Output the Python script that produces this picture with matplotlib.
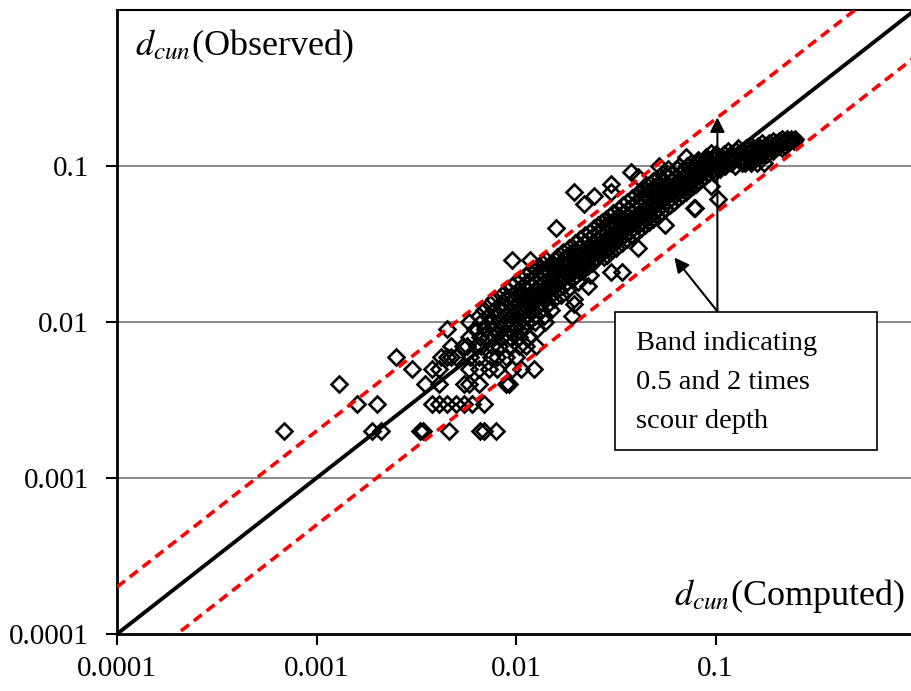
import matplotlib
matplotlib.use("Agg")
import matplotlib.pyplot as plt
from matplotlib.ticker import FixedLocator, FixedFormatter, NullLocator

plt.rcParams['font.family'] = ['Liberation Serif', 'DejaVu Serif']
plt.rcParams['mathtext.fontset'] = 'stix'

# observed scour depth rows (values are read to 0.001) and the computed depths on each row
obs_rows = [0.002, 0.003, 0.004, 0.005, 0.006, 0.007, 0.008, 0.009, 0.010,
            0.011, 0.012, 0.013, 0.014, 0.015, 0.016, 0.017, 0.018, 0.019,
            0.020, 0.021, 0.022, 0.023, 0.024, 0.025, 0.026, 0.027, 0.028,
            0.030, 0.032, 0.034, 0.036, 0.038, 0.040, 0.042, 0.044, 0.046,
            0.048, 0.050, 0.053, 0.054, 0.056, 0.057, 0.059, 0.061, 0.062,
            0.064, 0.065, 0.068, 0.071, 0.074, 0.077, 0.080, 0.085, 0.090,
            0.091, 0.095, 0.100, 0.104, 0.105, 0.110, 0.114, 0.115, 0.120,
            0.122, 0.125, 0.130, 0.135, 0.140, 0.145, 0.150]

comp_rows = [
    [0.00069, 0.0019, 0.0021, 0.0033, 0.0034, 0.0046, 0.0066, 0.0069, 0.0079],
    [0.0016, 0.002, 0.0038, 0.0041, 0.0045, 0.005, 0.0055, 0.006, 0.0069],
    [0.0013, 0.0035, 0.0041, 0.0055, 0.0058, 0.0065, 0.0089, 0.0092],
    [0.003, 0.0038, 0.0041, 0.0058, 0.0065, 0.0073, 0.008, 0.0095, 0.0106, 0.0123],
    [0.0025, 0.0042, 0.0045, 0.0047, 0.005, 0.0059, 0.0065, 0.0075, 0.008, 0.0089, 0.01],
    [0.0047, 0.0054, 0.0057, 0.0064, 0.0067, 0.0076, 0.0082, 0.0092, 0.0103, 0.0112, 0.0126],
    [0.0058, 0.0066, 0.0072, 0.0078, 0.0085, 0.0093, 0.0103, 0.0115],
    [0.0045, 0.0062, 0.0070, 0.0077, 0.0084, 0.0091, 0.0099, 0.0108, 0.0128],
    [0.0058, 0.0067, 0.0075, 0.0082, 0.0089, 0.0096, 0.0104, 0.0113, 0.0125, 0.014],
    [0.0065, 0.0072, 0.0080, 0.0088, 0.0096, 0.0104, 0.0113, 0.0124, 0.0138, 0.019],
    [0.0069, 0.0078, 0.0086, 0.0094, 0.0102, 0.0111, 0.0121, 0.0133, 0.0150],
    [0.0074, 0.0084, 0.0093, 0.0101, 0.0110, 0.0119, 0.0130, 0.0145, 0.0195],
    [0.0078, 0.0088, 0.0098, 0.0107, 0.0116, 0.0126, 0.0138, 0.0155, 0.0195],
    [0.0085, 0.0096, 0.0106, 0.0116, 0.0126, 0.0136, 0.0149, 0.0168],
    [0.0090, 0.0102, 0.0113, 0.0124, 0.0135, 0.0147, 0.0160, 0.0180],
    [0.0096, 0.0108, 0.0120, 0.0131, 0.0143, 0.0156, 0.0172, 0.023],
    [0.0100, 0.0113, 0.0126, 0.0138, 0.0150, 0.0163, 0.0180, 0.0205],
    [0.0107, 0.0120, 0.0133, 0.0146, 0.0159, 0.0173, 0.0190],
    [0.0112, 0.0126, 0.0140, 0.0153, 0.0167, 0.0182, 0.0200, 0.0235],
    [0.0118, 0.0133, 0.0147, 0.0161, 0.0176, 0.0192, 0.0210, 0.030, 0.034],
    [0.0124, 0.0139, 0.0154, 0.0169, 0.0184, 0.0200, 0.0220],
    [0.0130, 0.0146, 0.0162, 0.0177, 0.0193, 0.0210, 0.0230],
    [0.0135, 0.0152, 0.0168, 0.0184, 0.0200, 0.0218, 0.0240],
    [0.0095, 0.0117, 0.0141, 0.0158, 0.0175, 0.0192, 0.0209, 0.0227, 0.0250],
    [0.0160, 0.0178, 0.0196, 0.0214, 0.0232, 0.0252, 0.0275],
    [0.0166, 0.0185, 0.0204, 0.0222, 0.0241, 0.0262, 0.0286],
    [0.0172, 0.0192, 0.0211, 0.0230, 0.0250, 0.0272, 0.0296],
    [0.0185, 0.0206, 0.0226, 0.0247, 0.0268, 0.0291, 0.0318, 0.041],
    [0.0197, 0.0219, 0.0241, 0.0263, 0.0286, 0.0310, 0.0339],
    [0.0209, 0.0233, 0.0256, 0.0280, 0.0304, 0.0330, 0.0360],
    [0.0222, 0.0247, 0.0272, 0.0296, 0.0322, 0.0349, 0.0381],
    [0.0234, 0.0260, 0.0287, 0.0313, 0.0340, 0.0368, 0.0402],
    [0.0158, 0.0246, 0.0274, 0.0302, 0.0329, 0.0357, 0.0387, 0.0423],
    [0.0259, 0.0288, 0.0317, 0.0346, 0.0375, 0.0407, 0.0444, 0.056],
    [0.0271, 0.0302, 0.0332, 0.0362, 0.0393, 0.0426, 0.0465],
    [0.0283, 0.0315, 0.0347, 0.0379, 0.0411, 0.0445, 0.0486],
    [0.0296, 0.0329, 0.0362, 0.0395, 0.0429, 0.0465, 0.0508],
    [0.0308, 0.0343, 0.0377, 0.0412, 0.0447, 0.0484, 0.0529],
    [0.0327, 0.0363, 0.0400, 0.0436, 0.0474, 0.0513, 0.0560],
    [0.078, 0.079],
    [0.0345, 0.0384, 0.0422, 0.0461, 0.0500, 0.0542, 0.0592],
    [0.022],
    [0.0362, 0.0403, 0.0443, 0.0484, 0.0525, 0.0569, 0.0621],
    [0.103],
    [0.0380, 0.0422, 0.0464, 0.0506, 0.0549, 0.0595, 0.0650],
    [0.0245],
    [0.0398, 0.0442, 0.0486, 0.0530, 0.0575, 0.0623, 0.0680],
    [0.0195, 0.030, 0.0416, 0.0462, 0.0508, 0.0554, 0.0601, 0.0651, 0.0710],
    [0.0434, 0.0482, 0.0530, 0.0578, 0.0627, 0.0679, 0.0740],
    [0.0452, 0.0502, 0.0552, 0.0602, 0.0653, 0.0707, 0.0770, 0.095],
    [0.030, 0.0470, 0.0522, 0.0574, 0.0626, 0.0679, 0.0735, 0.0800],
    [0.0488, 0.0542, 0.0596, 0.0650, 0.0705, 0.0763, 0.0830],
    [0.041, 0.0518, 0.0575, 0.0632, 0.0689, 0.0747, 0.0808, 0.0880],
    [0.0548, 0.0608, 0.0668, 0.0728, 0.0789, 0.0853, 0.0930, 0.098],
    [0.0376],
    [0.0580, 0.0643, 0.0706, 0.0769, 0.0833, 0.0900, 0.0980, 0.105],
    [0.052, 0.0660, 0.0720, 0.0780, 0.0840, 0.0900, 0.0960, 0.103, 0.112, 0.125],
    [0.140, 0.150, 0.162, 0.175],
    [0.0750, 0.0820, 0.0890, 0.0960, 0.103, 0.110, 0.120, 0.135],
    [0.0820, 0.0900, 0.0980, 0.106, 0.114, 0.123, 0.135, 0.150],
    [0.071],
    [0.0900, 0.0990, 0.108, 0.117, 0.126, 0.137, 0.150, 0.165],
    [0.100, 0.110, 0.120, 0.130, 0.141, 0.153, 0.167, 0.182],
    [0.095],
    [0.115, 0.126, 0.138, 0.150, 0.163, 0.178, 0.195],
    [0.130, 0.142, 0.155, 0.168, 0.183, 0.199, 0.215],
    [0.150, 0.163, 0.177, 0.192, 0.208, 0.224],
    [0.172, 0.186, 0.201, 0.216, 0.232],
    [0.195, 0.208, 0.222, 0.236, 0.248],
    [0.215, 0.228, 0.240, 0.250],
]

computed = []
observed = []
for y, xs in zip(obs_rows, comp_rows):
    for x in xs:
        computed.append(x)
        observed.append(y)

# perfect agreement and the 0.5 / 2 times bands
line_x = [0.0001, 1.0]
line_y = [0.0001, 1.0]
upper_y = [0.0002, 2.0]
lower_y = [0.00005, 0.5]

ticks = [0.0001, 0.001, 0.01, 0.1]
tick_labels = ['0.0001', '0.001', '0.01', '0.1']

fig = plt.figure(figsize=(9.12, 6.91), dpi=100)
ax = fig.add_axes([117 / 912, 57 / 691, 798 / 912, 624 / 691])
ax.set_xscale('log')
ax.set_yscale('log')
ax.set_xlim(0.0001, 1)
ax.set_ylim(0.0001, 1)

for g in [0.001, 0.01, 0.1]:
    ax.axhline(g, color='#808080', lw=1.3, zorder=1)

ax.plot(computed, observed, linestyle='none', marker='D', ms=8.5,
        mfc='none', mec='black', mew=1.9, zorder=2)
ax.plot(line_x, line_y, color='black', lw=2.8, zorder=3)
ax.plot(line_x, upper_y, color='#ff0000', lw=2.6, ls=(0, (2.8, 1.7)), zorder=3)
ax.plot(line_x, lower_y, color='#ff0000', lw=2.6, ls=(0, (2.8, 1.7)), zorder=3)

ax.xaxis.set_major_locator(FixedLocator(ticks))
ax.xaxis.set_major_formatter(FixedFormatter(tick_labels))
ax.yaxis.set_major_locator(FixedLocator(ticks))
ax.yaxis.set_major_formatter(FixedFormatter(tick_labels))
ax.xaxis.set_minor_locator(NullLocator())
ax.yaxis.set_minor_locator(NullLocator())
ax.tick_params(axis='x', direction='out', length=8, width=1.5, labelsize=21, pad=8)
ax.tick_params(axis='y', direction='out', length=8, width=1.5, labelsize=21, pad=12)

for side in ['left', 'bottom']:
    ax.spines[side].set_linewidth(2)
ax.spines['top'].set_linewidth(1.5)
ax.spines['right'].set_linewidth(1.5)

ax.text(0.0226, 0.928, r'$d_{cun}$(Observed)', transform=ax.transAxes,
        fontsize=26, ha='left', va='baseline')
ax.text(0.987, 0.0465, r'$d_{cun}$(Computed)', transform=ax.transAxes,
        fontsize=26, ha='right', va='baseline')

# annotation box with arrows to the band lines
box = plt.Rectangle((0.624, 0.295), 0.328, 0.221, transform=ax.transAxes,
                    facecolor='white', edgecolor='black', lw=1.2, zorder=5)
ax.add_patch(box)
for i, line in enumerate(['Band indicating', '0.5 and 2 times', 'scour depth']):
    ax.text(0.650, 0.455 - i * 0.0625, line, transform=ax.transAxes,
            fontsize=20.5, ha='left', va='baseline', zorder=6)

arrow = dict(arrowstyle='-|>', color='black', lw=1.5, mutation_scale=22,
             shrinkA=0, shrinkB=0)
ax.annotate('', xy=(0.1022, 0.205), xytext=(0.1022, 0.0117), arrowprops=arrow, zorder=4)
ax.annotate('', xy=(0.0622, 0.0259), xytext=(0.1022, 0.0117), arrowprops=arrow, zorder=4)

fig.savefig('out.png', dpi=100)
